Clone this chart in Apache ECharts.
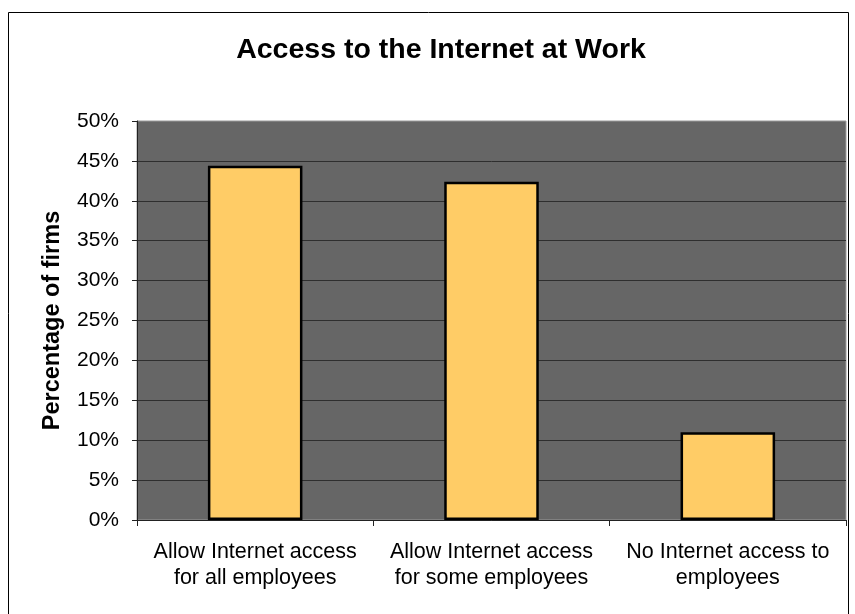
<!DOCTYPE html>
<html>
<head>
<meta charset="utf-8">
<script src="https://cdn.jsdelivr.net/npm/echarts@6/dist/echarts.min.js"></script>
<style>
  html, body { margin: 0; padding: 0; background: #fff; }
  #chart { width: 855px; height: 614px; }
</style>
</head>
<body>
<div id="chart"></div>
<script>
// Survey results: share of firms by internet access policy
const categories = [
  'Allow Internet access\nfor all employees',
  'Allow Internet access\nfor some employees',
  'No Internet access to\nemployees'
];
const shareOfFirms = [44.4, 42.4, 11.0];
const yTicks = { min: 0, max: 50, interval: 5 };

const FONT = '"Liberation Sans", Arial, sans-serif';

const chart = echarts.init(document.getElementById('chart'), null, { renderer: 'canvas' });

chart.setOption({
  animation: false,
  backgroundColor: '#ffffff',
  title: {
    text: 'Access to the Internet at Work',
    left: 436,
    top: 31,
    textAlign: 'center',
    textStyle: { fontFamily: FONT, fontWeight: 'bold', fontSize: 28.5, color: '#000' }
  },
  // chart frame; its lower edge runs past the bottom of the canvas
  graphic: [{
    type: 'rect',
    shape: { x: 8.5, y: 12.5, width: 840, height: 620 },
    style: { fill: 'none', stroke: '#000', lineWidth: 1 },
    z: -1
  }],
  grid: {
    left: 137,
    top: 121,
    width: 709,
    height: 399,
    show: true,
    backgroundColor: '#666666',
    borderColor: '#9a9a9a',
    borderWidth: 1
  },
  xAxis: {
    type: 'category',
    data: categories,
    boundaryGap: true,
    axisLine: { lineStyle: { color: '#222', width: 1 } },
    axisTick: { show: true, length: 6, alignWithLabel: false, lineStyle: { color: '#222' } },
    axisLabel: {
      margin: 19,
      interval: 0,
      fontFamily: FONT,
      fontSize: 21.5,
      lineHeight: 26,
      color: '#000',
      align: 'center'
    },
    splitLine: { show: false }
  },
  yAxis: {
    type: 'value',
    min: yTicks.min,
    max: yTicks.max,
    interval: yTicks.interval,
    name: 'Percentage of firms',
    nameLocation: 'middle',
    nameGap: 72,
    nameRotate: 90,
    nameTextStyle: { fontFamily: FONT, fontWeight: 'bold', fontSize: 23.5, color: '#000' },
    axisLine: { show: true, lineStyle: { color: '#222', width: 1 } },
    axisTick: { show: true, length: 5, lineStyle: { color: '#222' } },
    axisLabel: {
      margin: 18,
      fontFamily: FONT,
      fontSize: 21,
      color: '#000',
      formatter: v => v + '%'
    },
    splitLine: { show: true, showMaxLine: false, lineStyle: { color: '#2e2e2e', width: 1 } }
  },
  series: [{
    type: 'bar',
    data: shareOfFirms,
    barWidth: '40%',
    itemStyle: { color: '#FFCC66', borderColor: '#000', borderWidth: 2.5 }
  }]
});
</script>
</body>
</html>
